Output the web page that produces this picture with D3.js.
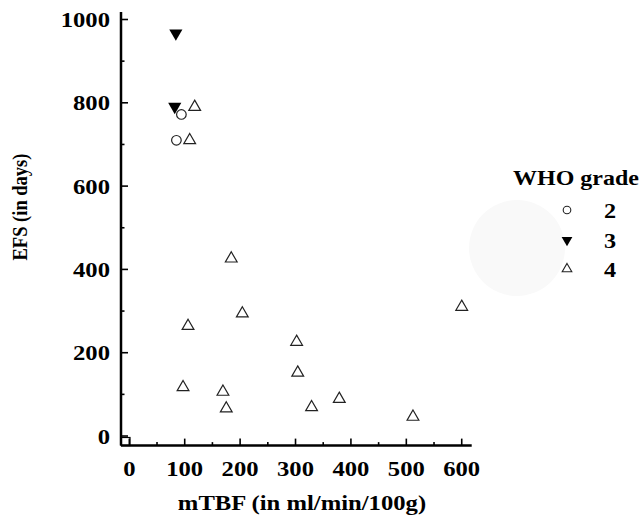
<!DOCTYPE html>
<html><head><meta charset="utf-8">
<script src="https://cdn.jsdelivr.net/npm/d3@7"></script>
<style>body{margin:0;background:#fff}svg{display:block}</style>
</head><body>
<svg id="c" width="642" height="518"></svg>
<script>
const grade2X = [94, 85];
const grade2Y = [772, 710];
const grade3X = [84, 82];
const grade3Y = [967, 791];
const grade4X = [118, 109, 184, 204, 106, 97, 169, 175, 600, 302, 304, 329, 379, 512];
const grade4Y = [790, 710, 426, 294, 264, 117, 106, 66, 310, 226, 152, 69, 89, 46];
const xTicks = [0, 100, 200, 300, 400, 500, 600];
const yTicks = [0, 200, 400, 600, 800, 1000];
const legendLabels = ["2", "3", "4"];
const legendTitle = "WHO grade";
const xTitle = "mTBF (in ml/min/100g)";
const yTitle = "EFS (in days)";

const svg = d3.select("#c");
const font = "'Liberation Serif','Times New Roman',serif";
const x = d3.scaleLinear().domain([-15, 618]).range([121, 471.7]);
const y = d3.scaleLinear().domain([-23, 1018]).range([445.6, 12]);

function stretch(sel, f) {
  sel.each(function() {
    const w = this.getComputedTextLength();
    d3.select(this).attr("textLength", w * f).attr("lengthAdjust", "spacingAndGlyphs");
  });
}

// faint blob
svg.append("circle").attr("cx", 517).attr("cy", 248).attr("r", 48).attr("fill", "#f9f9f9");

const g = svg.append("g");
g.append("line").attr("x1", x.range()[0]).attr("x2", x.range()[0]).attr("y1", y.range()[1]).attr("y2", y.range()[0]).attr("stroke", "#000").attr("stroke-width", 2.5);
g.append("line").attr("x1", x.range()[0]).attr("x2", x.range()[1]).attr("y1", y.range()[0]).attr("y2", y.range()[0]).attr("stroke", "#000").attr("stroke-width", 2.5);
g.append("rect").attr("x", 121).attr("y", 437.5).attr("width", 9).attr("height", 8).attr("fill", "none").attr("stroke", "#000").attr("stroke-width", 1.2);

// x ticks
const xMinor = d3.range(0, 601, 50);
g.selectAll(".xt").data(xMinor).join("line")
  .attr("x1", d => x(d)).attr("x2", d => x(d))
  .attr("y1", y.range()[0]).attr("y2", d => y.range()[0] - (d % 100 === 0 ? 7 : 3.5))
  .attr("stroke", "#000").attr("stroke-width", 1.6);
const xl = g.selectAll(".xl").data(xTicks).join("text")
  .attr("x", d => x(d)).attr("y", 476).attr("text-anchor", "middle")
  .attr("font-family", font).attr("font-weight", "bold").attr("font-size", 22)
  .text(d => d);
stretch(xl, 1.12);

// y ticks
const yMinor = d3.range(0, 1001, 100);
g.selectAll(".yt").data(yMinor).join("line")
  .attr("x1", x.range()[0]).attr("x2", d => x.range()[0] + (d % 200 === 0 ? 7 : 3.5))
  .attr("y1", d => y(d)).attr("y2", d => y(d))
  .attr("stroke", "#000").attr("stroke-width", 1.6);
const yl = g.selectAll(".yl").data(yTicks).join("text")
  .attr("x", 110).attr("y", d => y(d) + 7.5).attr("text-anchor", "end")
  .attr("font-family", font).attr("font-weight", "bold").attr("font-size", 22)
  .text(d => d);
stretch(yl, 1.12);

// titles
const xt = svg.append("text").attr("x", 302).attr("y", 510).attr("text-anchor", "middle")
  .attr("font-family", font).attr("font-weight", "bold").attr("font-size", 22).text(xTitle);
stretch(xt, 1.12);
svg.append("text").attr("transform", "translate(27,207) rotate(-90)").attr("text-anchor", "middle")
  .attr("font-family", font).attr("font-weight", "bold").attr("font-size", 20)
  .attr("textLength", 107).attr("lengthAdjust", "spacingAndGlyphs").text(yTitle);

// markers
const triUp = d3.symbol().type(d3.symbolTriangle).size(60);
const triDown = d3.symbol().type(d3.symbolTriangle).size(75);
svg.selectAll(".g2").data(d3.zip(grade2X, grade2Y)).join("circle")
  .attr("cx", d => x(d[0])).attr("cy", d => y(d[1])).attr("r", 4.8)
  .attr("fill", "none").attr("stroke", "#222").attr("stroke-width", 1.2);
svg.selectAll(".g3").data(d3.zip(grade3X, grade3Y)).join("path")
  .attr("d", triDown).attr("transform", d => `translate(${x(d[0])},${y(d[1])}) rotate(180)`)
  .attr("fill", "#000");
svg.selectAll(".g4").data(d3.zip(grade4X, grade4Y)).join("path")
  .attr("d", triUp).attr("transform", d => `translate(${x(d[0])},${y(d[1])})`)
  .attr("fill", "none").attr("stroke", "#222").attr("stroke-width", 1.2);

// legend
const lt = svg.append("text").attr("x", 513).attr("y", 185).attr("font-family", font).attr("font-weight", "bold").attr("font-size", 22).text(legendTitle);
stretch(lt, 1.09);
const ly = [210, 240, 269];
svg.append("circle").attr("cx", 567).attr("cy", ly[0]).attr("r", 3.8).attr("fill", "none").attr("stroke", "#222").attr("stroke-width", 1.1);
svg.append("path").attr("d", d3.symbol().type(d3.symbolTriangle).size(50)).attr("transform", `translate(567,${ly[1]}) rotate(180)`).attr("fill", "#000");
svg.append("path").attr("d", d3.symbol().type(d3.symbolTriangle).size(40)).attr("transform", `translate(567,${ly[2]})`).attr("fill", "none").attr("stroke", "#222").attr("stroke-width", 1.1);
const ll = svg.selectAll(".ll").data(legendLabels).join("text")
  .attr("x", 610).attr("y", (d, i) => ly[i] + 7.5).attr("text-anchor", "middle")
  .attr("font-family", font).attr("font-weight", "bold").attr("font-size", 22).text(d => d);
stretch(ll, 1.1);
</script>
</body></html>
